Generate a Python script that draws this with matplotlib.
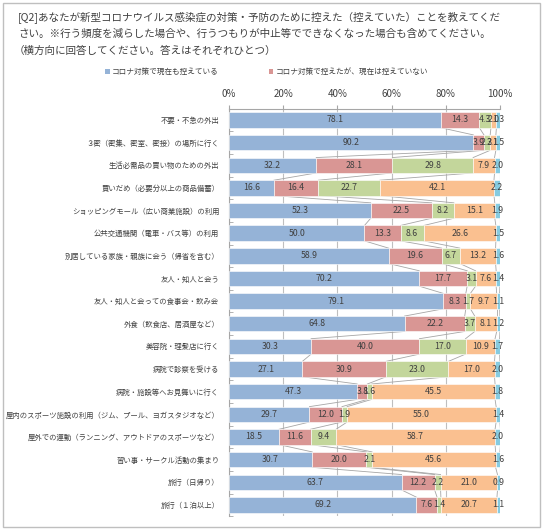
import numpy as np
import matplotlib
matplotlib.use('Agg')
import matplotlib.pyplot as plt
from matplotlib.patches import Rectangle, Patch

plt.rcParams['font.family'] = ['Noto Sans CJK JP', 'DejaVu Sans']

title_lines = ['[Q2]あなたが新型コロナウイルス感染症の対策・予防のために控えた（控えていた）ことを教えてくだ',
               'さい。※行う頻度を減らした場合や、行うつもりが中止等でできなくなった場合も含めてください。',
               '（横方向に回答してください。答えはそれぞれひとつ）']

categories = ['不要・不急の外出',
              '３密（密集、密室、密接）の場所に行く',
              '生活必需品の買い物のための外出',
              '買いだめ（必要分以上の商品備蓄）',
              'ショッピングモール（広い商業施設）の利用',
              '公共交通機関（電車・バス等）の利用',
              '別居している家族・親族に会う（帰省を含む）',
              '友人・知人と会う',
              '友人・知人と会っての食事会・飲み会',
              '外食（飲食店、居酒屋など）',
              '美容院・理髪店に行く',
              '病院で診察を受ける',
              '病院・施設等へお見舞いに行く',
              '屋内のスポーツ施設の利用（ジム、プール、ヨガスタジオなど）',
              '屋外での運動（ランニング、アウトドアのスポーツなど）',
              '習い事・サークル活動の集まり',
              '旅行（日帰り）',
              '旅行（１泊以上）']

series_names = ['コロナ対策で現在も控えている',
                'コロナ対策で控えたが、現在は控えていない',
                'コロナ対策以外の理由で控えている',
                'もともと行っていない',
                'その他']

still_refrain = [78.1, 90.2, 32.2, 16.6, 52.3, 50.0, 58.9, 70.2, 79.1, 64.8, 30.3, 27.1, 47.3, 29.7, 18.5, 30.7, 63.7, 69.2]
refrained_before = [14.3, 3.9, 28.1, 16.4, 22.5, 13.3, 19.6, 17.7, 8.3, 22.2, 40.0, 30.9, 3.8, 12.0, 11.6, 20.0, 12.2, 7.6]
other_reason = [4.3, 2.3, 29.8, 22.7, 8.2, 8.6, 6.7, 3.1, 1.7, 3.7, 17.0, 23.0, 1.6, 1.9, 9.4, 2.1, 2.2, 1.4]
not_done = [2.0, 2.1, 7.9, 42.1, 15.1, 26.6, 13.2, 7.6, 9.7, 8.1, 10.9, 17.0, 45.5, 55.0, 58.7, 45.6, 21.0, 20.7]
other = [1.3, 1.5, 2.0, 2.2, 1.9, 1.5, 1.6, 1.4, 1.1, 1.2, 1.7, 2.0, 1.8, 1.4, 2.0, 1.6, 0.9, 1.1]

colors = ['#95B3D7', '#D99694', '#C3D69B', '#FAC090', '#86CBE0']
x_ticks = [0, 20, 40, 60, 80, 100]

data = np.array([still_refrain, refrained_before, other_reason, not_done, other])
n = len(categories)
y = np.arange(n)
h = 0.68

fig = plt.figure(figsize=(5.44, 5.30), dpi=100)
ax = fig.add_axes([0.421, 0.026, 0.498, 0.769])

left = np.zeros(n)
cum = []
for k in range(len(data)):
    ax.barh(y, data[k], left=left, height=h, color=colors[k], edgecolor='white', lw=0.4, zorder=3)
    for i in range(n):
        ax.text(left[i] + data[k][i] / 2, y[i], f'{data[k][i]:.1f}', ha='center', va='center',
                fontsize=6.3, color='#404040', zorder=5)
    left = left + data[k]
    cum.append(left.copy())

# series lines between bars
for c in cum:
    for i in range(n - 1):
        ax.plot([c[i], c[i + 1]], [y[i] + h / 2, y[i + 1] - h / 2], color='#A6A6A6', lw=0.6, zorder=2)

ax.set_xlim(0, 100)
ax.set_ylim(n - 0.5, -0.5)
ax.xaxis.tick_top()
ax.set_xticks(x_ticks)
ax.set_xticklabels([f'{t}%' for t in x_ticks])
ax.tick_params(axis='x', labelsize=7, colors='#404040', length=3, color='#A6A6A6', pad=4)
ax.set_yticks(y)
ax.set_yticklabels(categories)
ax.tick_params(axis='y', which='major', labelsize=5.3, colors='#404040', length=0, pad=7)
ax.set_yticks(np.arange(n + 1) - 0.5, minor=True)
ax.tick_params(axis='y', which='minor', direction='in', length=3, color='#A6A6A6')
ax.grid(axis='x', color='#BFBFBF', lw=0.8, zorder=0)
for s in ['right', 'bottom']:
    ax.spines[s].set_visible(False)
for s in ['top', 'left']:
    ax.spines[s].set_color('#A6A6A6')

for j, line in enumerate(title_lines):
    fig.text(18 / 544 if j < 2 else 14 / 544, 1 - (17 + j * 17) / 530, line, fontsize=7.6,
             color='#404040', ha='left', va='center')

handles = [Patch(facecolor=colors[k]) for k in range(2)]
fig.legend(handles, series_names[:2], loc='center', bbox_to_anchor=(0.49, 1 - 72 / 530), ncol=2,
           frameon=False, fontsize=5.5, handlelength=0.6, handleheight=0.6, handletextpad=0.3,
           columnspacing=6.5, labelcolor='#404040')

fig.patches.append(Rectangle((3 / 544, 3 / 530), 537 / 544, 524 / 530, transform=fig.transFigure,
                             fill=False, edgecolor='#BFBFBF', lw=1))

fig.savefig('out.png', dpi=100)
